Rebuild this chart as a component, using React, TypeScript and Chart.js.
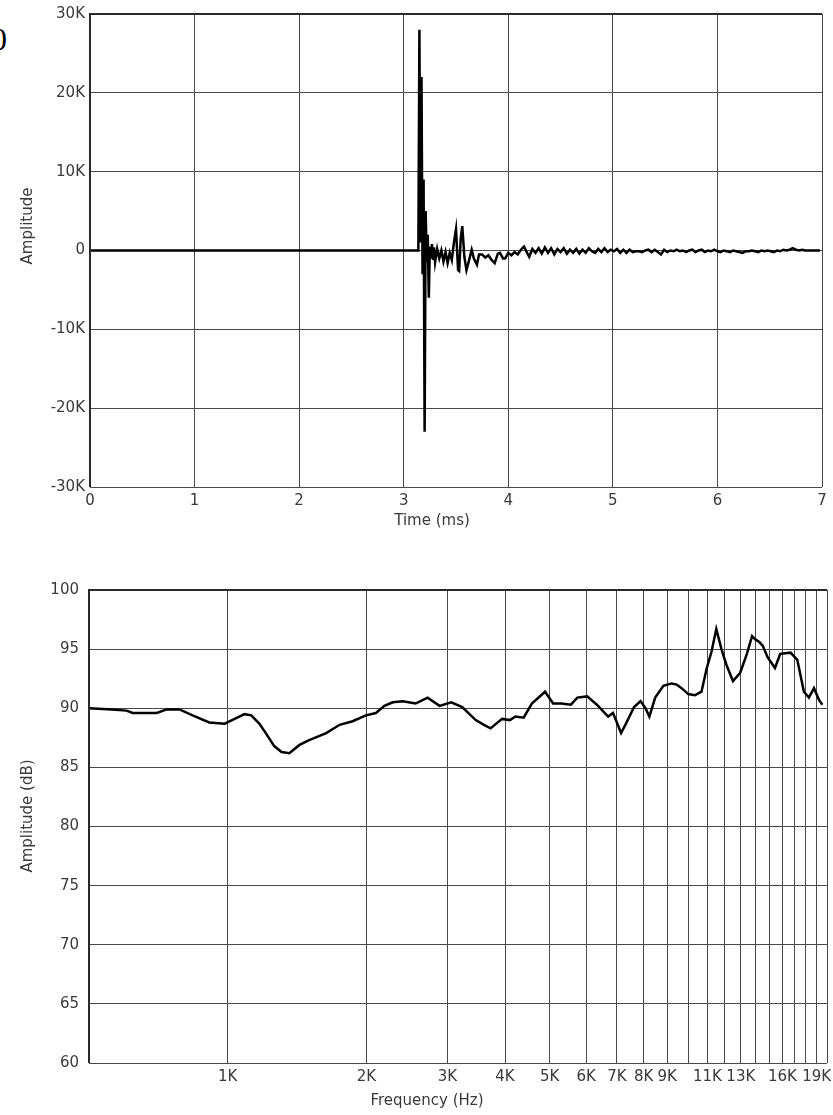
import React, { useEffect, useRef } from "react";
import { Chart, registerables } from "chart.js";

Chart.register(...registerables);

// ---------- Impulse response (top chart) ----------
const impulseTimeMs = [
  0, 3.14, 3.15, 3.16, 3.17, 3.18, 3.19, 3.2, 3.21, 3.22, 3.23, 3.24, 3.25, 3.26, 3.27, 3.28, 3.29, 3.3,
  3.32, 3.34, 3.36, 3.38, 3.4, 3.42, 3.44, 3.46, 3.48, 3.5, 3.52, 3.53, 3.545, 3.56, 3.58, 3.6, 3.62,
  3.65, 3.67, 3.7, 3.72, 3.75, 3.78, 3.81, 3.84, 3.87, 3.9, 3.92, 3.95, 3.97, 4.0, 4.03, 4.06, 4.09,
  4.12, 4.15, 4.18, 4.2, 4.23, 4.26, 4.29, 4.32, 4.35, 4.38, 4.41, 4.44, 4.47, 4.5, 4.53, 4.56, 4.59,
  4.62, 4.65, 4.68, 4.71, 4.74, 4.77, 4.8, 4.83, 4.86, 4.89, 4.92, 4.95, 4.98, 5.01, 5.04, 5.07, 5.1,
  5.13, 5.16, 5.19, 5.22, 5.25, 5.28, 5.31, 5.34, 5.37, 5.4, 5.43, 5.46, 5.49, 5.52, 5.55, 5.58, 5.61,
  5.64, 5.67, 5.7, 5.73, 5.76, 5.79, 5.82, 5.85, 5.88, 5.91, 5.94, 5.97, 6.0, 6.03, 6.06, 6.09, 6.12,
  6.15, 6.18, 6.21, 6.24, 6.27, 6.3, 6.33, 6.36, 6.39, 6.42, 6.45, 6.48, 6.51, 6.54, 6.57, 6.6, 6.63,
  6.66, 6.69, 6.72, 6.75, 6.78, 6.81, 6.84, 6.87, 6.9, 6.93, 6.96, 6.98,
];
const impulseAmplitude = [
  0, 0, 28000, 1000, 22000, -3000, 9000, -23000, 5000, -1500, 2000, -6000, 500, -1000, 800, -1200, 400, -1500,
  200, -1000, 0, -1400, -200, -1600, -300, -1200, 1000, 2700, -2500, -2600, 1500, 3100, -800, -2500, -1500,
  100, -1000, -1800, -500, -500, -900, -600, -1200, -1600, -400, -300, -1000, -1000, -300, -600, -200, -500,
  100, 500, -300, -800, 200, -300, 300, -400, 400, -300, 300, -500, 200, -200, 300, -400, 100,
  -300, 200, -400, 100, -300, 300, -100, -300, 200, -200, 300, -200, 100, -100, 200, -300, 100,
  -300, 100, -200, -100, -100, -200, 0, 100, -200, 100, -200, -500, 100, -200, 0, -100, 100,
  -100, 0, -200, 0, 100, -200, 0, 100, -200, 0, -100, 100, -100, -200, 0, -100, -200,
  0, -100, -200, -300, -100, -100, 0, -100, -200, 0, -100, 0, -100, -200, 0, -100, 100,
  0, 100, 300, 100, 0, 100, 0, 0, 0, 0, 0, 0,
];
const timeTicksMs = [0, 1, 2, 3, 4, 5, 6, 7];
const amplitudeTicks = [-30000, -20000, -10000, 0, 10000, 20000, 30000];

// ---------- Frequency response (bottom chart) ----------
const freqHz = [
  500, 560, 603, 622, 660, 702, 737, 786, 839, 912, 985, 1022, 1088, 1125, 1171, 1210, 1262, 1309, 1361,
  1432, 1503, 1636, 1750, 1867, 1996, 2098, 2189, 2283, 2398, 2558, 2717, 2884, 3058, 3230, 3455, 3600,
  3721, 3943, 4100, 4213, 4391, 4574, 4886, 5087, 5300, 5559, 5744, 6032, 6331, 6699, 6862, 7146, 7322,
  7624, 7876, 8071, 8230, 8474, 8828, 9197, 9431, 9670, 9995, 10335, 10680, 10950, 11230, 11500, 11800,
  12090, 12500, 12960, 13400, 13750, 14000, 14260, 14500, 14870, 15420, 15830, 16670, 17240, 17820,
  18270, 18740, 19220, 19540,
];
const freqDb = [
  90.0, 89.9, 89.8, 89.6, 89.6, 89.6, 89.9, 89.9, 89.4, 88.8, 88.7, 89.0, 89.5, 89.4, 88.7, 87.9, 86.8, 86.3, 86.2,
  86.9, 87.3, 87.9, 88.6, 88.9, 89.4, 89.6, 90.2, 90.5, 90.6, 90.4, 90.9, 90.2, 90.5, 90.1, 89.0, 88.6,
  88.3, 89.1, 89.0, 89.3, 89.2, 90.4, 91.4, 90.4, 90.4, 90.3, 90.9, 91.0, 90.3, 89.3, 89.6, 87.9, 88.7,
  90.1, 90.6, 90.0, 89.3, 90.9, 91.9, 92.1, 92.0, 91.7, 91.2, 91.1, 91.4, 93.3, 94.8, 96.7, 95.0,
  93.7, 92.3, 93.0, 94.6, 96.1, 95.8, 95.6, 95.3, 94.3, 93.4, 94.6, 94.7, 94.1, 91.4,
  90.9, 91.7, 90.7, 90.3,
];
const freqGridHz = [
  1000, 2000, 3000, 4000, 5000, 6000, 7000, 8000, 9000, 10000, 11000, 12000, 13000, 14000, 15000,
  16000, 17000, 18000, 19000, 20000,
];
const freqLabelHz = [1000, 2000, 3000, 4000, 5000, 6000, 7000, 8000, 9000, 11000, 13000, 16000, 19000];
const dbTicks = [60, 65, 70, 75, 80, 85, 90, 95, 100];

const FONT = '"DejaVu Sans", sans-serif';
const TEXT = "#3a3a3a";
const GRID = "#4a4a4a";

const framePlugin = {
  id: "frame",
  afterDraw(chart: any, _args: any, opts: any) {
    const { ctx, chartArea } = chart;
    const { left, top, right, bottom } = chartArea;
    ctx.save();
    ctx.strokeStyle = "#2a2a2a";
    ctx.lineWidth = 2;
    ctx.beginPath();
    ctx.moveTo(left, bottom);
    ctx.lineTo(left, top);
    ctx.lineTo(right, top);
    ctx.stroke();
    ctx.fillStyle = TEXT;
    ctx.font = `15px ${FONT}`;
    ctx.textAlign = "center";
    ctx.textBaseline = "middle";
    ctx.fillText(opts.xTitle, opts.xTitleX, opts.xTitleY);
    ctx.translate(opts.yTitleX, opts.yTitleY);
    ctx.rotate(-Math.PI / 2);
    ctx.fillText(opts.yTitle, 0, 0);
    ctx.restore();
  },
};

function kLabel(v: number) {
  return v === 0 ? "0" : `${v / 1000}K`;
}

export default function App() {
  const topRef = useRef<HTMLCanvasElement | null>(null);
  const botRef = useRef<HTMLCanvasElement | null>(null);

  useEffect(() => {
    const tickFont = { family: FONT, size: 15 };
    const top = new Chart(topRef.current as HTMLCanvasElement, {
      type: "line",
      data: {
        datasets: [
          {
            data: impulseTimeMs.map((t, i) => ({ x: t, y: impulseAmplitude[i] })),
            borderColor: "#000",
            borderWidth: 2.5,
            pointRadius: 0,
            tension: 0,
          },
        ],
      },
      options: {
        animation: false,
        responsive: false,
        layout: { padding: { left: 0, right: 11, top: 14, bottom: 0 } },
        plugins: {
          legend: { display: false },
          tooltip: { enabled: false },
          frame: {
            xTitle: "Time (ms)",
            xTitleX: 432,
            xTitleY: 521,
            yTitle: "Amplitude",
            yTitleX: 28,
            yTitleY: 226,
          },
        } as any,
        scales: {
          x: {
            type: "linear",
            min: 0,
            max: 7,
            afterBuildTicks: (s: any) => {
              s.ticks = timeTicksMs.map((v) => ({ value: v }));
            },
            afterFit: (s: any) => {
              s.height = 53;
              s.paddingLeft = 0;
              s.paddingRight = 0;
            },
            ticks: { font: tickFont, color: TEXT, padding: 5, maxRotation: 0, autoSkip: false },
            grid: { color: GRID, lineWidth: 1, drawTicks: false },
            border: { display: false },
          },
          y: {
            type: "linear",
            min: -30000,
            max: 30000,
            afterBuildTicks: (s: any) => {
              s.ticks = amplitudeTicks.map((v) => ({ value: v }));
            },
            afterFit: (s: any) => {
              s.width = 90;
              s.paddingTop = 0;
              s.paddingBottom = 0;
            },
            ticks: { font: tickFont, color: TEXT, padding: 5, autoSkip: false, callback: (v: any) => kLabel(Number(v)) },
            grid: { color: GRID, lineWidth: 1, drawTicks: false },
            border: { display: false },
          },
        },
      },
      plugins: [framePlugin],
    });

    const bot = new Chart(botRef.current as HTMLCanvasElement, {
      type: "line",
      data: {
        datasets: [
          {
            data: freqHz.map((f, i) => ({ x: f, y: freqDb[i] })),
            borderColor: "#000",
            borderWidth: 2.5,
            pointRadius: 0,
            tension: 0,
          },
        ],
      },
      options: {
        animation: false,
        responsive: false,
        layout: { padding: { left: 0, right: 6, top: 50, bottom: 0 } },
        plugins: {
          legend: { display: false },
          tooltip: { enabled: false },
          frame: {
            xTitle: "Frequency (Hz)",
            xTitleX: 427,
            xTitleY: 561,
            yTitle: "Amplitude (dB)",
            yTitleX: 28,
            yTitleY: 276,
          },
        } as any,
        scales: {
          x: {
            type: "logarithmic",
            min: 500,
            max: 20000,
            afterBuildTicks: (s: any) => {
              s.ticks = freqGridHz.map((v) => ({ value: v }));
              s.min = 500;
              s.max = 20000;
            },
            afterFit: (s: any) => {
              s.height = 52;
              s.paddingLeft = 0;
              s.paddingRight = 0;
            },
            ticks: {
              font: tickFont,
              color: TEXT,
              padding: 5,
              maxRotation: 0,
              autoSkip: false,
              callback: (v: any) => (freqLabelHz.includes(Number(v)) ? `${Number(v) / 1000}K` : ""),
            },
            grid: { color: GRID, lineWidth: 1, drawTicks: false },
            border: { display: false },
          },
          y: {
            type: "linear",
            min: 60,
            max: 100,
            afterBuildTicks: (s: any) => {
              s.ticks = dbTicks.map((v) => ({ value: v }));
            },
            afterFit: (s: any) => {
              s.width = 89;
              s.paddingTop = 0;
              s.paddingBottom = 0;
            },
            ticks: { font: tickFont, color: TEXT, padding: 10, autoSkip: false, callback: (v: any) => String(v) },
            grid: { color: GRID, lineWidth: 1, drawTicks: false },
            border: { display: false },
          },
        },
      },
      plugins: [framePlugin],
    });

    return () => {
      top.destroy();
      bot.destroy();
    };
  }, []);

  return (
    <div
      style={{
        position: "absolute",
        left: 0,
        top: 0,
        width: 833,
        height: 1115,
        background: "#fff",
        overflow: "hidden",
      }}
    >
      <div
        style={{
          position: "absolute",
          left: -9,
          top: 23,
          fontFamily: '"Liberation Serif", serif',
          fontSize: 32,
          lineHeight: 1,
          color: "#000",
        }}
      >
        0
      </div>
      <canvas
        ref={topRef}
        width={833}
        height={540}
        style={{ position: "absolute", left: 0, top: 0, width: 833, height: 540 }}
      />
      <canvas
        ref={botRef}
        width={833}
        height={575}
        style={{ position: "absolute", left: 0, top: 540, width: 833, height: 575 }}
      />
    </div>
  );
}
